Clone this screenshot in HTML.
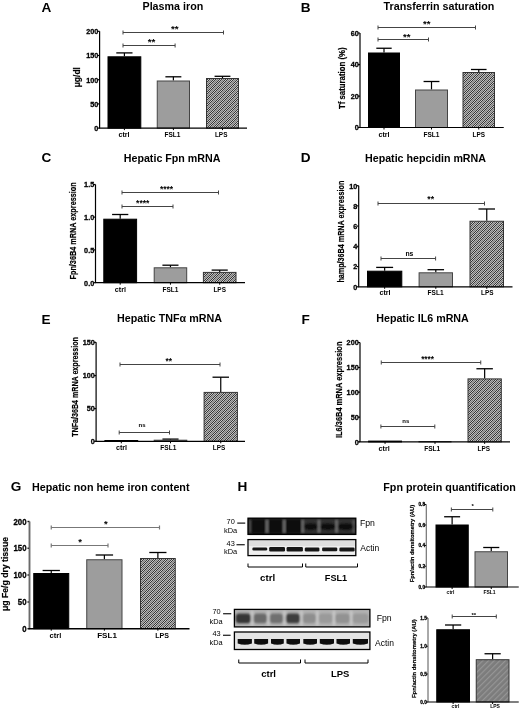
<!DOCTYPE html><html><head><meta charset="utf-8"><style>html,body{margin:0;padding:0;background:#fff;}svg{display:block;filter:grayscale(1);}</style></head><body>
<svg width="520" height="710" viewBox="0 0 520 710" font-family='"Liberation Sans", sans-serif'>
<defs>
<pattern id="hatch" patternUnits="userSpaceOnUse" width="2" height="2">
<rect width="2" height="2" fill="#b0b0b0"/><rect width="1" height="1" fill="#3a3a3a"/><rect x="1" y="1" width="1" height="1" fill="#3a3a3a"/></pattern>
<pattern id="diag" patternUnits="userSpaceOnUse" width="3" height="3">
<path d="M-1,1 l2,-2 M0,3 l3,-3 M2,4 l2,-2" stroke="#fff" stroke-opacity="0.35" stroke-width="1"/></pattern>
<pattern id="hatch2" patternUnits="userSpaceOnUse" width="4" height="4" patternTransform="rotate(-45)">
<rect width="4" height="4" fill="#7c7c7c"/><rect width="4" height="1.2" fill="#959595"/></pattern>
</defs>
<rect width="520" height="710" fill="#fff"/>
<text x="41.60" y="12.20" font-size="13.6" font-weight="bold" text-anchor="start" fill="#000" >A</text>
<text x="300.80" y="12.40" font-size="13.6" font-weight="bold" text-anchor="start" fill="#000" >B</text>
<text x="41.60" y="162.00" font-size="13.6" font-weight="bold" text-anchor="start" fill="#000" >C</text>
<text x="300.80" y="162.40" font-size="13.6" font-weight="bold" text-anchor="start" fill="#000" >D</text>
<text x="41.60" y="324.40" font-size="13.6" font-weight="bold" text-anchor="start" fill="#000" >E</text>
<text x="301.60" y="324.20" font-size="13.6" font-weight="bold" text-anchor="start" fill="#000" >F</text>
<text x="10.80" y="490.50" font-size="13.6" font-weight="bold" text-anchor="start" fill="#000" >G</text>
<text x="237.60" y="490.50" font-size="13.6" font-weight="bold" text-anchor="start" fill="#000" >H</text>
<text x="142.50" y="9.70" font-size="10.3" font-weight="bold" text-anchor="start" fill="#000" textLength="60.75" lengthAdjust="spacingAndGlyphs" >Plasma iron</text>
<text x="383.60" y="9.60" font-size="10.3" font-weight="bold" text-anchor="start" fill="#000" textLength="110.80" lengthAdjust="spacingAndGlyphs" >Transferrin saturation</text>
<text x="123.75" y="162.00" font-size="10.3" font-weight="bold" text-anchor="start" fill="#000" textLength="96.75" lengthAdjust="spacingAndGlyphs" >Hepatic Fpn mRNA</text>
<text x="365.00" y="162.00" font-size="10.3" font-weight="bold" text-anchor="start" fill="#000" textLength="121.00" lengthAdjust="spacingAndGlyphs" >Hepatic hepcidin mRNA</text>
<text x="117.00" y="322.00" font-size="10.3" font-weight="bold" text-anchor="start" fill="#000" textLength="105.00" lengthAdjust="spacingAndGlyphs" >Hepatic TNF&#945; mRNA</text>
<text x="376.25" y="321.80" font-size="10.3" font-weight="bold" text-anchor="start" fill="#000" textLength="92.50" lengthAdjust="spacingAndGlyphs" >Hepatic IL6 mRNA</text>
<text x="32.00" y="490.50" font-size="10.3" font-weight="bold" text-anchor="start" fill="#000" textLength="157.50" lengthAdjust="spacingAndGlyphs" >Hepatic non heme iron content</text>
<text x="383.30" y="490.50" font-size="10.3" font-weight="bold" text-anchor="start" fill="#000" textLength="132.50" lengthAdjust="spacingAndGlyphs" >Fpn protein quantification</text>
<line x1="97.60" y1="31.30" x2="99.60" y2="31.30" stroke="#000" stroke-width="1.2"/>
<text x="98.30" y="34.11" font-size="7.8" font-weight="bold" text-anchor="end" fill="#000" textLength="12.10" lengthAdjust="spacingAndGlyphs" stroke="#000" stroke-width="0.3">200</text>
<line x1="97.60" y1="55.50" x2="99.60" y2="55.50" stroke="#000" stroke-width="1.2"/>
<text x="98.30" y="58.31" font-size="7.8" font-weight="bold" text-anchor="end" fill="#000" textLength="12.10" lengthAdjust="spacingAndGlyphs" stroke="#000" stroke-width="0.3">150</text>
<line x1="97.60" y1="79.70" x2="99.60" y2="79.70" stroke="#000" stroke-width="1.2"/>
<text x="98.30" y="82.51" font-size="7.8" font-weight="bold" text-anchor="end" fill="#000" textLength="12.10" lengthAdjust="spacingAndGlyphs" stroke="#000" stroke-width="0.3">100</text>
<line x1="97.60" y1="103.90" x2="99.60" y2="103.90" stroke="#000" stroke-width="1.2"/>
<text x="98.30" y="106.71" font-size="7.8" font-weight="bold" text-anchor="end" fill="#000" textLength="8.07" lengthAdjust="spacingAndGlyphs" stroke="#000" stroke-width="0.3">50</text>
<line x1="97.60" y1="128.10" x2="99.60" y2="128.10" stroke="#000" stroke-width="1.2"/>
<text x="98.30" y="130.91" font-size="7.8" font-weight="bold" text-anchor="end" fill="#000" textLength="4.03" lengthAdjust="spacingAndGlyphs" stroke="#000" stroke-width="0.3">0</text>
<line x1="124.40" y1="52.90" x2="124.40" y2="56.30" stroke="#000" stroke-width="1.2"/>
<line x1="116.29" y1="52.90" x2="132.51" y2="52.90" stroke="#000" stroke-width="1.3"/>
<rect x="108.00" y="56.80" width="32.80" height="71.30" fill="#000" stroke="#000" stroke-width="1"/>
<line x1="124.40" y1="128.10" x2="124.40" y2="130.10" stroke="#000" stroke-width="1"/>
<line x1="173.38" y1="76.80" x2="173.38" y2="80.50" stroke="#000" stroke-width="1.2"/>
<line x1="165.40" y1="76.80" x2="181.35" y2="76.80" stroke="#000" stroke-width="1.3"/>
<rect x="157.25" y="81.00" width="32.25" height="47.10" fill="#9d9d9d" stroke="#444" stroke-width="1"/>
<line x1="173.38" y1="128.10" x2="173.38" y2="130.10" stroke="#000" stroke-width="1"/>
<line x1="222.50" y1="76.30" x2="222.50" y2="78.00" stroke="#000" stroke-width="1.2"/>
<line x1="214.58" y1="76.30" x2="230.42" y2="76.30" stroke="#000" stroke-width="1.3"/>
<rect x="206.50" y="78.50" width="32.00" height="49.60" fill="url(#hatch)" stroke="#333" stroke-width="1"/>
<rect x="207.00" y="79.00" width="31.00" height="49.10" fill="url(#diag)"/>
<line x1="222.50" y1="128.10" x2="222.50" y2="130.10" stroke="#000" stroke-width="1"/>
<line x1="99.60" y1="31.30" x2="99.60" y2="128.10" stroke="#000" stroke-width="1.2"/>
<line x1="99.00" y1="128.10" x2="247.00" y2="128.10" stroke="#000" stroke-width="1.2"/>
<line x1="123.00" y1="32.50" x2="223.50" y2="32.50" stroke="#444" stroke-width="1.0"/>
<line x1="123.00" y1="30.50" x2="123.00" y2="34.50" stroke="#444" stroke-width="1.0"/>
<line x1="223.50" y1="30.50" x2="223.50" y2="34.50" stroke="#444" stroke-width="1.0"/>
<text x="174.85" y="31.80" font-size="9.8" font-weight="bold" text-anchor="middle" fill="#000" >**</text>
<line x1="123.00" y1="45.50" x2="175.10" y2="45.50" stroke="#444" stroke-width="1.0"/>
<line x1="123.00" y1="43.50" x2="123.00" y2="47.50" stroke="#444" stroke-width="1.0"/>
<line x1="175.10" y1="43.50" x2="175.10" y2="47.50" stroke="#444" stroke-width="1.0"/>
<text x="151.50" y="44.80" font-size="9.8" font-weight="bold" text-anchor="middle" fill="#000" >**</text>
<text x="124.00" y="137.40" font-size="7.5" font-weight="bold" text-anchor="middle" fill="#000" textLength="11.2" lengthAdjust="spacingAndGlyphs" >ctrl</text>
<text x="172.50" y="137.40" font-size="7.5" font-weight="bold" text-anchor="middle" fill="#000" textLength="16" lengthAdjust="spacingAndGlyphs" >FSL1</text>
<text x="221.20" y="137.40" font-size="7.5" font-weight="bold" text-anchor="middle" fill="#000" textLength="12.5" lengthAdjust="spacingAndGlyphs" >LPS</text>
<text x="79.60" y="77.20" font-size="9" font-weight="bold" text-anchor="middle" fill="#000" textLength="20.2" lengthAdjust="spacingAndGlyphs" transform="rotate(-90 79.60 77.20)" stroke="#000" stroke-width="0.2">&#956;g/dl</text>
<line x1="358.00" y1="33.00" x2="360.00" y2="33.00" stroke="#000" stroke-width="1.2"/>
<text x="358.70" y="35.81" font-size="7.8" font-weight="bold" text-anchor="end" fill="#000" textLength="8.07" lengthAdjust="spacingAndGlyphs" stroke="#000" stroke-width="0.3">60</text>
<line x1="358.00" y1="64.60" x2="360.00" y2="64.60" stroke="#000" stroke-width="1.2"/>
<text x="358.70" y="67.41" font-size="7.8" font-weight="bold" text-anchor="end" fill="#000" textLength="8.07" lengthAdjust="spacingAndGlyphs" stroke="#000" stroke-width="0.3">40</text>
<line x1="358.00" y1="96.10" x2="360.00" y2="96.10" stroke="#000" stroke-width="1.2"/>
<text x="358.70" y="98.91" font-size="7.8" font-weight="bold" text-anchor="end" fill="#000" textLength="8.07" lengthAdjust="spacingAndGlyphs" stroke="#000" stroke-width="0.3">20</text>
<line x1="358.00" y1="127.50" x2="360.00" y2="127.50" stroke="#000" stroke-width="1.2"/>
<text x="358.70" y="130.31" font-size="7.8" font-weight="bold" text-anchor="end" fill="#000" textLength="4.03" lengthAdjust="spacingAndGlyphs" stroke="#000" stroke-width="0.3">0</text>
<line x1="384.00" y1="48.25" x2="384.00" y2="52.50" stroke="#000" stroke-width="1.2"/>
<line x1="376.32" y1="48.25" x2="391.68" y2="48.25" stroke="#000" stroke-width="1.3"/>
<rect x="368.50" y="53.00" width="31.00" height="74.50" fill="#000" stroke="#000" stroke-width="1"/>
<line x1="384.00" y1="127.50" x2="384.00" y2="129.50" stroke="#000" stroke-width="1"/>
<line x1="431.50" y1="81.50" x2="431.50" y2="89.50" stroke="#000" stroke-width="1.2"/>
<line x1="423.58" y1="81.50" x2="439.42" y2="81.50" stroke="#000" stroke-width="1.3"/>
<rect x="415.50" y="90.00" width="32.00" height="37.50" fill="#9d9d9d" stroke="#444" stroke-width="1"/>
<line x1="431.50" y1="127.50" x2="431.50" y2="129.50" stroke="#000" stroke-width="1"/>
<line x1="478.75" y1="69.50" x2="478.75" y2="72.00" stroke="#000" stroke-width="1.2"/>
<line x1="470.95" y1="69.50" x2="486.55" y2="69.50" stroke="#000" stroke-width="1.3"/>
<rect x="463.00" y="72.50" width="31.50" height="55.00" fill="url(#hatch)" stroke="#333" stroke-width="1"/>
<rect x="463.50" y="73.00" width="30.50" height="54.50" fill="url(#diag)"/>
<line x1="478.75" y1="127.50" x2="478.75" y2="129.50" stroke="#000" stroke-width="1"/>
<line x1="360.00" y1="33.00" x2="360.00" y2="127.50" stroke="#000" stroke-width="1.2"/>
<line x1="359.40" y1="127.50" x2="503.75" y2="127.50" stroke="#000" stroke-width="1.2"/>
<line x1="378.00" y1="27.50" x2="475.50" y2="27.50" stroke="#444" stroke-width="1.0"/>
<line x1="378.00" y1="25.50" x2="378.00" y2="29.50" stroke="#444" stroke-width="1.0"/>
<line x1="475.50" y1="25.50" x2="475.50" y2="29.50" stroke="#444" stroke-width="1.0"/>
<text x="426.85" y="27.05" font-size="9.6" font-weight="bold" text-anchor="middle" fill="#000" >**</text>
<line x1="378.00" y1="39.50" x2="428.50" y2="39.50" stroke="#444" stroke-width="1.0"/>
<line x1="378.00" y1="37.50" x2="378.00" y2="41.50" stroke="#444" stroke-width="1.0"/>
<line x1="428.50" y1="37.50" x2="428.50" y2="41.50" stroke="#444" stroke-width="1.0"/>
<text x="406.80" y="39.95" font-size="9.6" font-weight="bold" text-anchor="middle" fill="#000" >**</text>
<text x="384.00" y="137.40" font-size="7.5" font-weight="bold" text-anchor="middle" fill="#000" textLength="11.2" lengthAdjust="spacingAndGlyphs" >ctrl</text>
<text x="431.50" y="137.40" font-size="7.5" font-weight="bold" text-anchor="middle" fill="#000" textLength="16" lengthAdjust="spacingAndGlyphs" >FSL1</text>
<text x="478.75" y="137.40" font-size="7.5" font-weight="bold" text-anchor="middle" fill="#000" textLength="12.5" lengthAdjust="spacingAndGlyphs" >LPS</text>
<text x="344.90" y="78.25" font-size="8.2" font-weight="bold" text-anchor="middle" fill="#000" textLength="61.7" lengthAdjust="spacingAndGlyphs" transform="rotate(-90 344.90 78.25)" stroke="#000" stroke-width="0.2">Tf saturation (%)</text>
<line x1="93.50" y1="184.50" x2="95.50" y2="184.50" stroke="#000" stroke-width="1.2"/>
<text x="94.20" y="187.31" font-size="7.8" font-weight="bold" text-anchor="end" fill="#000" textLength="10.08" lengthAdjust="spacingAndGlyphs" stroke="#000" stroke-width="0.3">1.5</text>
<line x1="93.50" y1="217.10" x2="95.50" y2="217.10" stroke="#000" stroke-width="1.2"/>
<text x="94.20" y="219.91" font-size="7.8" font-weight="bold" text-anchor="end" fill="#000" textLength="10.08" lengthAdjust="spacingAndGlyphs" stroke="#000" stroke-width="0.3">1.0</text>
<line x1="93.50" y1="249.90" x2="95.50" y2="249.90" stroke="#000" stroke-width="1.2"/>
<text x="94.20" y="252.71" font-size="7.8" font-weight="bold" text-anchor="end" fill="#000" textLength="10.08" lengthAdjust="spacingAndGlyphs" stroke="#000" stroke-width="0.3">0.5</text>
<line x1="93.50" y1="282.70" x2="95.50" y2="282.70" stroke="#000" stroke-width="1.2"/>
<text x="94.20" y="285.51" font-size="7.8" font-weight="bold" text-anchor="end" fill="#000" textLength="10.08" lengthAdjust="spacingAndGlyphs" stroke="#000" stroke-width="0.3">0.0</text>
<line x1="120.20" y1="214.50" x2="120.20" y2="218.70" stroke="#000" stroke-width="1.2"/>
<line x1="112.09" y1="214.50" x2="128.31" y2="214.50" stroke="#000" stroke-width="1.3"/>
<rect x="103.80" y="219.20" width="32.80" height="63.50" fill="#000" stroke="#000" stroke-width="1"/>
<line x1="120.20" y1="282.70" x2="120.20" y2="284.70" stroke="#000" stroke-width="1"/>
<line x1="170.45" y1="265.20" x2="170.45" y2="267.30" stroke="#000" stroke-width="1.2"/>
<line x1="162.41" y1="265.20" x2="178.49" y2="265.20" stroke="#000" stroke-width="1.3"/>
<rect x="154.20" y="267.80" width="32.50" height="14.90" fill="#9d9d9d" stroke="#444" stroke-width="1"/>
<line x1="170.45" y1="282.70" x2="170.45" y2="284.70" stroke="#000" stroke-width="1"/>
<line x1="219.70" y1="270.10" x2="219.70" y2="271.90" stroke="#000" stroke-width="1.2"/>
<line x1="211.64" y1="270.10" x2="227.76" y2="270.10" stroke="#000" stroke-width="1.3"/>
<rect x="203.40" y="272.40" width="32.60" height="10.30" fill="url(#hatch)" stroke="#333" stroke-width="1"/>
<rect x="203.90" y="272.90" width="31.60" height="9.80" fill="url(#diag)"/>
<line x1="219.70" y1="282.70" x2="219.70" y2="284.70" stroke="#000" stroke-width="1"/>
<line x1="95.50" y1="184.50" x2="95.50" y2="282.70" stroke="#000" stroke-width="1.2"/>
<line x1="94.90" y1="282.70" x2="245.00" y2="282.70" stroke="#000" stroke-width="1.2"/>
<line x1="122.00" y1="192.50" x2="218.50" y2="192.50" stroke="#444" stroke-width="1.0"/>
<line x1="122.00" y1="190.50" x2="122.00" y2="194.50" stroke="#444" stroke-width="1.0"/>
<line x1="218.50" y1="190.50" x2="218.50" y2="194.50" stroke="#444" stroke-width="1.0"/>
<text x="166.55" y="191.89" font-size="8.5" font-weight="bold" text-anchor="middle" fill="#000" >****</text>
<line x1="122.00" y1="206.50" x2="173.00" y2="206.50" stroke="#444" stroke-width="1.0"/>
<line x1="122.00" y1="204.50" x2="122.00" y2="208.50" stroke="#444" stroke-width="1.0"/>
<line x1="173.00" y1="204.50" x2="173.00" y2="208.50" stroke="#444" stroke-width="1.0"/>
<text x="142.70" y="206.49" font-size="8.5" font-weight="bold" text-anchor="middle" fill="#000" >****</text>
<text x="120.40" y="291.70" font-size="7.5" font-weight="bold" text-anchor="middle" fill="#000" textLength="11.2" lengthAdjust="spacingAndGlyphs" >ctrl</text>
<text x="170.50" y="291.70" font-size="7.5" font-weight="bold" text-anchor="middle" fill="#000" textLength="16" lengthAdjust="spacingAndGlyphs" >FSL1</text>
<text x="219.70" y="291.70" font-size="7.5" font-weight="bold" text-anchor="middle" fill="#000" textLength="12.5" lengthAdjust="spacingAndGlyphs" >LPS</text>
<text x="76.50" y="230.90" font-size="8.2" font-weight="bold" text-anchor="middle" fill="#000" textLength="97.2" lengthAdjust="spacingAndGlyphs" transform="rotate(-90 76.50 230.90)" stroke="#000" stroke-width="0.2">Fpn/36B4 mRNA expression</text>
<line x1="356.70" y1="185.70" x2="358.70" y2="185.70" stroke="#000" stroke-width="1.2"/>
<text x="357.40" y="188.51" font-size="7.8" font-weight="bold" text-anchor="end" fill="#000" textLength="8.07" lengthAdjust="spacingAndGlyphs" stroke="#000" stroke-width="0.3">10</text>
<line x1="356.70" y1="205.90" x2="358.70" y2="205.90" stroke="#000" stroke-width="1.2"/>
<text x="357.40" y="208.71" font-size="7.8" font-weight="bold" text-anchor="end" fill="#000" textLength="4.03" lengthAdjust="spacingAndGlyphs" stroke="#000" stroke-width="0.3">8</text>
<line x1="356.70" y1="226.10" x2="358.70" y2="226.10" stroke="#000" stroke-width="1.2"/>
<text x="357.40" y="228.91" font-size="7.8" font-weight="bold" text-anchor="end" fill="#000" textLength="4.03" lengthAdjust="spacingAndGlyphs" stroke="#000" stroke-width="0.3">6</text>
<line x1="356.70" y1="246.30" x2="358.70" y2="246.30" stroke="#000" stroke-width="1.2"/>
<text x="357.40" y="249.11" font-size="7.8" font-weight="bold" text-anchor="end" fill="#000" textLength="4.03" lengthAdjust="spacingAndGlyphs" stroke="#000" stroke-width="0.3">4</text>
<line x1="356.70" y1="266.60" x2="358.70" y2="266.60" stroke="#000" stroke-width="1.2"/>
<text x="357.40" y="269.41" font-size="7.8" font-weight="bold" text-anchor="end" fill="#000" textLength="4.03" lengthAdjust="spacingAndGlyphs" stroke="#000" stroke-width="0.3">2</text>
<line x1="356.70" y1="286.80" x2="358.70" y2="286.80" stroke="#000" stroke-width="1.2"/>
<text x="357.40" y="289.61" font-size="7.8" font-weight="bold" text-anchor="end" fill="#000" textLength="4.03" lengthAdjust="spacingAndGlyphs" stroke="#000" stroke-width="0.3">0</text>
<line x1="384.65" y1="267.40" x2="384.65" y2="270.70" stroke="#000" stroke-width="1.2"/>
<line x1="376.18" y1="267.40" x2="393.12" y2="267.40" stroke="#000" stroke-width="1.3"/>
<rect x="367.50" y="271.20" width="34.30" height="15.60" fill="#000" stroke="#000" stroke-width="1"/>
<line x1="384.65" y1="286.80" x2="384.65" y2="288.80" stroke="#000" stroke-width="1"/>
<line x1="435.80" y1="269.70" x2="435.80" y2="272.30" stroke="#000" stroke-width="1.2"/>
<line x1="427.54" y1="269.70" x2="444.06" y2="269.70" stroke="#000" stroke-width="1.3"/>
<rect x="419.10" y="272.80" width="33.40" height="14.00" fill="#9d9d9d" stroke="#444" stroke-width="1"/>
<line x1="435.80" y1="286.80" x2="435.80" y2="288.80" stroke="#000" stroke-width="1"/>
<line x1="486.75" y1="209.00" x2="486.75" y2="220.75" stroke="#000" stroke-width="1.2"/>
<line x1="478.47" y1="209.00" x2="495.03" y2="209.00" stroke="#000" stroke-width="1.3"/>
<rect x="470.00" y="221.25" width="33.50" height="65.55" fill="url(#hatch)" stroke="#333" stroke-width="1"/>
<rect x="470.50" y="221.75" width="32.50" height="65.05" fill="url(#diag)"/>
<line x1="486.75" y1="286.80" x2="486.75" y2="288.80" stroke="#000" stroke-width="1"/>
<line x1="358.70" y1="185.70" x2="358.70" y2="286.80" stroke="#000" stroke-width="1.2"/>
<line x1="358.10" y1="286.80" x2="512.50" y2="286.80" stroke="#000" stroke-width="1.2"/>
<line x1="378.00" y1="203.50" x2="484.50" y2="203.50" stroke="#444" stroke-width="1.0"/>
<line x1="378.00" y1="201.50" x2="378.00" y2="205.50" stroke="#444" stroke-width="1.0"/>
<line x1="484.50" y1="201.50" x2="484.50" y2="205.50" stroke="#444" stroke-width="1.0"/>
<text x="430.75" y="201.59" font-size="8.7" font-weight="bold" text-anchor="middle" fill="#000" >**</text>
<line x1="381.00" y1="258.50" x2="435.60" y2="258.50" stroke="#444" stroke-width="1.0"/>
<line x1="381.00" y1="256.50" x2="381.00" y2="260.50" stroke="#444" stroke-width="1.0"/>
<line x1="435.60" y1="256.50" x2="435.60" y2="260.50" stroke="#444" stroke-width="1.0"/>
<text x="409.45" y="255.75" font-size="6.8" font-weight="bold" text-anchor="middle" fill="#000" >ns</text>
<text x="385.00" y="295.30" font-size="7.5" font-weight="bold" text-anchor="middle" fill="#000" textLength="11.2" lengthAdjust="spacingAndGlyphs" >ctrl</text>
<text x="435.60" y="295.30" font-size="7.5" font-weight="bold" text-anchor="middle" fill="#000" textLength="16" lengthAdjust="spacingAndGlyphs" >FSL1</text>
<text x="487.30" y="295.30" font-size="7.5" font-weight="bold" text-anchor="middle" fill="#000" textLength="12.5" lengthAdjust="spacingAndGlyphs" >LPS</text>
<text x="344.00" y="231.60" font-size="8.3" font-weight="bold" text-anchor="middle" fill="#000" textLength="102" lengthAdjust="spacingAndGlyphs" transform="rotate(-90 344.00 231.60)" stroke="#000" stroke-width="0.2">hamp/36B4 mRNA expression</text>
<line x1="94.10" y1="342.30" x2="96.10" y2="342.30" stroke="#000" stroke-width="1.2"/>
<text x="94.80" y="345.11" font-size="7.8" font-weight="bold" text-anchor="end" fill="#000" textLength="12.10" lengthAdjust="spacingAndGlyphs" stroke="#000" stroke-width="0.3">150</text>
<line x1="94.10" y1="375.60" x2="96.10" y2="375.60" stroke="#000" stroke-width="1.2"/>
<text x="94.80" y="378.41" font-size="7.8" font-weight="bold" text-anchor="end" fill="#000" textLength="12.10" lengthAdjust="spacingAndGlyphs" stroke="#000" stroke-width="0.3">100</text>
<line x1="94.10" y1="408.60" x2="96.10" y2="408.60" stroke="#000" stroke-width="1.2"/>
<text x="94.80" y="411.41" font-size="7.8" font-weight="bold" text-anchor="end" fill="#000" textLength="8.07" lengthAdjust="spacingAndGlyphs" stroke="#000" stroke-width="0.3">50</text>
<line x1="94.10" y1="441.30" x2="96.10" y2="441.30" stroke="#000" stroke-width="1.2"/>
<text x="94.80" y="444.11" font-size="7.8" font-weight="bold" text-anchor="end" fill="#000" textLength="4.03" lengthAdjust="spacingAndGlyphs" stroke="#000" stroke-width="0.3">0</text>
<rect x="104.90" y="440.50" width="32.80" height="0.80" fill="#000" stroke="#000" stroke-width="1"/>
<line x1="121.30" y1="441.30" x2="121.30" y2="443.30" stroke="#000" stroke-width="1"/>
<line x1="170.50" y1="439.10" x2="170.50" y2="439.70" stroke="#000" stroke-width="1.2"/>
<line x1="162.44" y1="439.10" x2="178.56" y2="439.10" stroke="#000" stroke-width="1.3"/>
<rect x="154.20" y="440.20" width="32.60" height="1.10" fill="#9d9d9d" stroke="#444" stroke-width="1"/>
<line x1="170.50" y1="441.30" x2="170.50" y2="443.30" stroke="#000" stroke-width="1"/>
<line x1="220.75" y1="377.20" x2="220.75" y2="391.90" stroke="#000" stroke-width="1.2"/>
<line x1="212.52" y1="377.20" x2="228.98" y2="377.20" stroke="#000" stroke-width="1.3"/>
<rect x="204.10" y="392.40" width="33.30" height="48.90" fill="url(#hatch)" stroke="#333" stroke-width="1"/>
<rect x="204.60" y="392.90" width="32.30" height="48.40" fill="url(#diag)"/>
<line x1="220.75" y1="441.30" x2="220.75" y2="443.30" stroke="#000" stroke-width="1"/>
<line x1="96.10" y1="342.30" x2="96.10" y2="441.30" stroke="#000" stroke-width="1.2"/>
<line x1="95.50" y1="441.30" x2="245.00" y2="441.30" stroke="#000" stroke-width="1.2"/>
<line x1="120.00" y1="364.50" x2="220.00" y2="364.50" stroke="#444" stroke-width="1.0"/>
<line x1="120.00" y1="362.50" x2="120.00" y2="366.50" stroke="#444" stroke-width="1.0"/>
<line x1="220.00" y1="362.50" x2="220.00" y2="366.50" stroke="#444" stroke-width="1.0"/>
<text x="168.65" y="363.73" font-size="8.4" font-weight="bold" text-anchor="middle" fill="#000" >**</text>
<line x1="119.20" y1="432.50" x2="169.50" y2="432.50" stroke="#444" stroke-width="1.0"/>
<line x1="119.20" y1="430.50" x2="119.20" y2="434.50" stroke="#444" stroke-width="1.0"/>
<line x1="169.50" y1="430.50" x2="169.50" y2="434.50" stroke="#444" stroke-width="1.0"/>
<text x="142.00" y="427.19" font-size="6" font-weight="bold" text-anchor="middle" fill="#000" >ns</text>
<text x="121.50" y="450.20" font-size="7.5" font-weight="bold" text-anchor="middle" fill="#000" textLength="11.2" lengthAdjust="spacingAndGlyphs" >ctrl</text>
<text x="168.30" y="450.20" font-size="7.5" font-weight="bold" text-anchor="middle" fill="#000" textLength="16" lengthAdjust="spacingAndGlyphs" >FSL1</text>
<text x="219.00" y="450.20" font-size="7.5" font-weight="bold" text-anchor="middle" fill="#000" textLength="12.5" lengthAdjust="spacingAndGlyphs" >LPS</text>
<text x="77.70" y="386.90" font-size="8.3" font-weight="bold" text-anchor="middle" fill="#000" textLength="99.7" lengthAdjust="spacingAndGlyphs" transform="rotate(-90 77.70 386.90)" stroke="#000" stroke-width="0.2">TNFa/36B4 mRNA expression</text>
<line x1="358.00" y1="342.50" x2="360.00" y2="342.50" stroke="#000" stroke-width="1.2"/>
<text x="358.70" y="345.31" font-size="7.8" font-weight="bold" text-anchor="end" fill="#000" textLength="12.10" lengthAdjust="spacingAndGlyphs" stroke="#000" stroke-width="0.3">200</text>
<line x1="358.00" y1="367.50" x2="360.00" y2="367.50" stroke="#000" stroke-width="1.2"/>
<text x="358.70" y="370.31" font-size="7.8" font-weight="bold" text-anchor="end" fill="#000" textLength="12.10" lengthAdjust="spacingAndGlyphs" stroke="#000" stroke-width="0.3">150</text>
<line x1="358.00" y1="392.20" x2="360.00" y2="392.20" stroke="#000" stroke-width="1.2"/>
<text x="358.70" y="395.01" font-size="7.8" font-weight="bold" text-anchor="end" fill="#000" textLength="12.10" lengthAdjust="spacingAndGlyphs" stroke="#000" stroke-width="0.3">100</text>
<line x1="358.00" y1="417.10" x2="360.00" y2="417.10" stroke="#000" stroke-width="1.2"/>
<text x="358.70" y="419.91" font-size="7.8" font-weight="bold" text-anchor="end" fill="#000" textLength="8.07" lengthAdjust="spacingAndGlyphs" stroke="#000" stroke-width="0.3">50</text>
<line x1="358.00" y1="441.90" x2="360.00" y2="441.90" stroke="#000" stroke-width="1.2"/>
<text x="358.70" y="444.71" font-size="7.8" font-weight="bold" text-anchor="end" fill="#000" textLength="4.03" lengthAdjust="spacingAndGlyphs" stroke="#000" stroke-width="0.3">0</text>
<rect x="368.60" y="441.10" width="32.90" height="0.80" fill="#000" stroke="#000" stroke-width="1"/>
<line x1="385.05" y1="441.90" x2="385.05" y2="443.90" stroke="#000" stroke-width="1"/>
<rect x="419.00" y="441.50" width="32.00" height="0.40" fill="#9d9d9d" stroke="#444" stroke-width="1"/>
<line x1="435.00" y1="441.90" x2="435.00" y2="443.90" stroke="#000" stroke-width="1"/>
<line x1="484.65" y1="368.75" x2="484.65" y2="378.40" stroke="#000" stroke-width="1.2"/>
<line x1="476.42" y1="368.75" x2="492.88" y2="368.75" stroke="#000" stroke-width="1.3"/>
<rect x="468.00" y="378.90" width="33.30" height="63.00" fill="url(#hatch)" stroke="#333" stroke-width="1"/>
<rect x="468.50" y="379.40" width="32.30" height="62.50" fill="url(#diag)"/>
<line x1="484.65" y1="441.90" x2="484.65" y2="443.90" stroke="#000" stroke-width="1"/>
<line x1="360.00" y1="342.50" x2="360.00" y2="441.90" stroke="#000" stroke-width="1.2"/>
<line x1="359.40" y1="441.90" x2="510.00" y2="441.90" stroke="#000" stroke-width="1.2"/>
<line x1="381.25" y1="362.50" x2="480.75" y2="362.50" stroke="#444" stroke-width="1.0"/>
<line x1="381.25" y1="360.50" x2="381.25" y2="364.50" stroke="#444" stroke-width="1.0"/>
<line x1="480.75" y1="360.50" x2="480.75" y2="364.50" stroke="#444" stroke-width="1.0"/>
<text x="427.60" y="362.43" font-size="8.3" font-weight="bold" text-anchor="middle" fill="#000" >****</text>
<line x1="380.90" y1="426.50" x2="434.80" y2="426.50" stroke="#444" stroke-width="1.0"/>
<line x1="380.90" y1="424.50" x2="380.90" y2="428.50" stroke="#444" stroke-width="1.0"/>
<line x1="434.80" y1="424.50" x2="434.80" y2="428.50" stroke="#444" stroke-width="1.0"/>
<text x="405.75" y="423.09" font-size="6" font-weight="bold" text-anchor="middle" fill="#000" >ns</text>
<text x="384.10" y="450.50" font-size="7.5" font-weight="bold" text-anchor="middle" fill="#000" textLength="11.2" lengthAdjust="spacingAndGlyphs" >ctrl</text>
<text x="432.20" y="450.50" font-size="7.5" font-weight="bold" text-anchor="middle" fill="#000" textLength="16" lengthAdjust="spacingAndGlyphs" >FSL1</text>
<text x="483.80" y="450.50" font-size="7.5" font-weight="bold" text-anchor="middle" fill="#000" textLength="12.5" lengthAdjust="spacingAndGlyphs" >LPS</text>
<text x="341.70" y="389.80" font-size="8.3" font-weight="bold" text-anchor="middle" fill="#000" textLength="96.5" lengthAdjust="spacingAndGlyphs" transform="rotate(-90 341.70 389.80)" stroke="#000" stroke-width="0.2">IL6/36B4 mRNA expression</text>
<line x1="27.50" y1="521.50" x2="29.50" y2="521.50" stroke="#000" stroke-width="1.4"/>
<text x="26.50" y="524.52" font-size="8.4" font-weight="bold" text-anchor="end" fill="#000" textLength="13.03" lengthAdjust="spacingAndGlyphs" stroke="#000" stroke-width="0.3">200</text>
<line x1="27.50" y1="548.25" x2="29.50" y2="548.25" stroke="#000" stroke-width="1.4"/>
<text x="26.50" y="551.27" font-size="8.4" font-weight="bold" text-anchor="end" fill="#000" textLength="13.03" lengthAdjust="spacingAndGlyphs" stroke="#000" stroke-width="0.3">150</text>
<line x1="27.50" y1="575.00" x2="29.50" y2="575.00" stroke="#000" stroke-width="1.4"/>
<text x="26.50" y="578.02" font-size="8.4" font-weight="bold" text-anchor="end" fill="#000" textLength="13.03" lengthAdjust="spacingAndGlyphs" stroke="#000" stroke-width="0.3">100</text>
<line x1="27.50" y1="602.00" x2="29.50" y2="602.00" stroke="#000" stroke-width="1.4"/>
<text x="26.50" y="605.02" font-size="8.4" font-weight="bold" text-anchor="end" fill="#000" textLength="8.69" lengthAdjust="spacingAndGlyphs" stroke="#000" stroke-width="0.3">50</text>
<line x1="27.50" y1="628.70" x2="29.50" y2="628.70" stroke="#000" stroke-width="1.4"/>
<text x="26.50" y="631.72" font-size="8.4" font-weight="bold" text-anchor="end" fill="#000" textLength="4.34" lengthAdjust="spacingAndGlyphs" stroke="#000" stroke-width="0.3">0</text>
<line x1="51.25" y1="570.50" x2="51.25" y2="573.00" stroke="#000" stroke-width="1.2"/>
<line x1="42.61" y1="570.50" x2="59.89" y2="570.50" stroke="#000" stroke-width="1.3"/>
<rect x="33.75" y="573.50" width="35.00" height="55.20" fill="#000" stroke="#000" stroke-width="1"/>
<line x1="51.25" y1="628.70" x2="51.25" y2="630.70" stroke="#000" stroke-width="1"/>
<line x1="104.38" y1="555.00" x2="104.38" y2="559.25" stroke="#000" stroke-width="1.2"/>
<line x1="95.67" y1="555.00" x2="113.08" y2="555.00" stroke="#000" stroke-width="1.3"/>
<rect x="86.75" y="559.75" width="35.25" height="68.95" fill="#9d9d9d" stroke="#444" stroke-width="1"/>
<line x1="104.38" y1="628.70" x2="104.38" y2="630.70" stroke="#000" stroke-width="1"/>
<line x1="157.88" y1="552.50" x2="157.88" y2="558.00" stroke="#000" stroke-width="1.2"/>
<line x1="149.29" y1="552.50" x2="166.46" y2="552.50" stroke="#000" stroke-width="1.3"/>
<rect x="140.50" y="558.50" width="34.75" height="70.20" fill="url(#hatch)" stroke="#333" stroke-width="1"/>
<rect x="141.00" y="559.00" width="33.75" height="69.70" fill="url(#diag)"/>
<line x1="157.88" y1="628.70" x2="157.88" y2="630.70" stroke="#000" stroke-width="1"/>
<line x1="29.50" y1="521.50" x2="29.50" y2="628.70" stroke="#6a6a6a" stroke-width="1.9"/>
<line x1="28.55" y1="628.70" x2="189.50" y2="628.70" stroke="#000" stroke-width="1.4"/>
<line x1="51.25" y1="527.50" x2="159.50" y2="527.50" stroke="#777" stroke-width="1.2"/>
<line x1="51.25" y1="525.50" x2="51.25" y2="529.50" stroke="#777" stroke-width="1.2"/>
<line x1="159.50" y1="525.50" x2="159.50" y2="529.50" stroke="#777" stroke-width="1.2"/>
<text x="105.90" y="527.14" font-size="9.5" font-weight="bold" text-anchor="middle" fill="#000" >*</text>
<line x1="51.25" y1="545.50" x2="108.00" y2="545.50" stroke="#777" stroke-width="1.2"/>
<line x1="51.25" y1="543.50" x2="51.25" y2="547.50" stroke="#777" stroke-width="1.2"/>
<line x1="108.00" y1="543.50" x2="108.00" y2="547.50" stroke="#777" stroke-width="1.2"/>
<text x="80.10" y="545.14" font-size="9.5" font-weight="bold" text-anchor="middle" fill="#000" >*</text>
<text x="55.40" y="637.88" font-size="8" font-weight="bold" text-anchor="middle" fill="#000" textLength="11.75" lengthAdjust="spacingAndGlyphs" >ctrl</text>
<text x="107.00" y="637.88" font-size="8" font-weight="bold" text-anchor="middle" fill="#000" textLength="19.75" lengthAdjust="spacingAndGlyphs" >FSL1</text>
<text x="162.00" y="637.88" font-size="8" font-weight="bold" text-anchor="middle" fill="#000" textLength="13.75" lengthAdjust="spacingAndGlyphs" >LPS</text>
<text x="8.20" y="574.00" font-size="8.6" font-weight="bold" text-anchor="middle" fill="#000" textLength="74" lengthAdjust="spacingAndGlyphs" transform="rotate(-90 8.20 574.00)" stroke="#000" stroke-width="0.2">&#956;g Fe/g dry tissue</text>
<line x1="424.25" y1="504.50" x2="426.25" y2="504.50" stroke="#000" stroke-width="1.1"/>
<text x="425.00" y="506.30" font-size="5" font-weight="bold" text-anchor="end" fill="#000" textLength="6.46" lengthAdjust="spacingAndGlyphs" stroke="#000" stroke-width="0.3">0.8</text>
<line x1="424.25" y1="525.00" x2="426.25" y2="525.00" stroke="#000" stroke-width="1.1"/>
<text x="425.00" y="526.80" font-size="5" font-weight="bold" text-anchor="end" fill="#000" textLength="6.46" lengthAdjust="spacingAndGlyphs" stroke="#000" stroke-width="0.3">0.6</text>
<line x1="424.25" y1="545.50" x2="426.25" y2="545.50" stroke="#000" stroke-width="1.1"/>
<text x="425.00" y="547.30" font-size="5" font-weight="bold" text-anchor="end" fill="#000" textLength="6.46" lengthAdjust="spacingAndGlyphs" stroke="#000" stroke-width="0.3">0.4</text>
<line x1="424.25" y1="566.25" x2="426.25" y2="566.25" stroke="#000" stroke-width="1.1"/>
<text x="425.00" y="568.05" font-size="5" font-weight="bold" text-anchor="end" fill="#000" textLength="6.46" lengthAdjust="spacingAndGlyphs" stroke="#000" stroke-width="0.3">0.2</text>
<line x1="424.25" y1="587.00" x2="426.25" y2="587.00" stroke="#000" stroke-width="1.1"/>
<text x="425.00" y="588.80" font-size="5" font-weight="bold" text-anchor="end" fill="#000" textLength="6.46" lengthAdjust="spacingAndGlyphs" stroke="#000" stroke-width="0.3">0.0</text>
<line x1="452.12" y1="516.75" x2="452.12" y2="524.50" stroke="#000" stroke-width="1.2"/>
<line x1="444.14" y1="516.75" x2="460.11" y2="516.75" stroke="#000" stroke-width="1.3"/>
<rect x="436.00" y="525.00" width="32.25" height="62.00" fill="#000" stroke="#000" stroke-width="1"/>
<line x1="452.12" y1="587.00" x2="452.12" y2="589.00" stroke="#000" stroke-width="1"/>
<line x1="491.25" y1="547.50" x2="491.25" y2="551.25" stroke="#000" stroke-width="1.2"/>
<line x1="483.21" y1="547.50" x2="499.29" y2="547.50" stroke="#000" stroke-width="1.3"/>
<rect x="475.00" y="551.75" width="32.50" height="35.25" fill="#9d9d9d" stroke="#444" stroke-width="1"/>
<line x1="491.25" y1="587.00" x2="491.25" y2="589.00" stroke="#000" stroke-width="1"/>
<line x1="426.25" y1="504.50" x2="426.25" y2="587.00" stroke="#555" stroke-width="1"/>
<line x1="425.75" y1="587.00" x2="518.75" y2="587.00" stroke="#000" stroke-width="1.1"/>
<line x1="451.35" y1="509.50" x2="492.80" y2="509.50" stroke="#444" stroke-width="1.0"/>
<line x1="451.35" y1="507.50" x2="451.35" y2="511.50" stroke="#444" stroke-width="1.0"/>
<line x1="492.80" y1="507.50" x2="492.80" y2="511.50" stroke="#444" stroke-width="1.0"/>
<text x="472.65" y="508.46" font-size="6" font-weight="bold" text-anchor="middle" fill="#000" >*</text>
<text x="450.50" y="594.30" font-size="5" font-weight="bold" text-anchor="middle" fill="#000" >ctrl</text>
<text x="489.50" y="594.30" font-size="5" font-weight="bold" text-anchor="middle" fill="#000" >FSL1</text>
<text x="414.00" y="543.60" font-size="6" font-weight="bold" text-anchor="middle" fill="#000" textLength="77.4" lengthAdjust="spacingAndGlyphs" transform="rotate(-90 414.00 543.60)" stroke="#000" stroke-width="0.2">Fpn/actin densitometry (AU)</text>
<line x1="426.00" y1="618.00" x2="428.00" y2="618.00" stroke="#000" stroke-width="1.1"/>
<text x="426.75" y="619.80" font-size="5" font-weight="bold" text-anchor="end" fill="#000" textLength="6.46" lengthAdjust="spacingAndGlyphs" stroke="#000" stroke-width="0.3">1.5</text>
<line x1="426.00" y1="646.25" x2="428.00" y2="646.25" stroke="#000" stroke-width="1.1"/>
<text x="426.75" y="648.05" font-size="5" font-weight="bold" text-anchor="end" fill="#000" textLength="6.46" lengthAdjust="spacingAndGlyphs" stroke="#000" stroke-width="0.3">1.0</text>
<line x1="426.00" y1="674.00" x2="428.00" y2="674.00" stroke="#000" stroke-width="1.1"/>
<text x="426.75" y="675.80" font-size="5" font-weight="bold" text-anchor="end" fill="#000" textLength="6.46" lengthAdjust="spacingAndGlyphs" stroke="#000" stroke-width="0.3">0.5</text>
<line x1="426.00" y1="702.00" x2="428.00" y2="702.00" stroke="#000" stroke-width="1.1"/>
<text x="426.75" y="703.80" font-size="5" font-weight="bold" text-anchor="end" fill="#000" textLength="6.46" lengthAdjust="spacingAndGlyphs" stroke="#000" stroke-width="0.3">0.0</text>
<line x1="453.12" y1="625.00" x2="453.12" y2="629.25" stroke="#000" stroke-width="1.2"/>
<line x1="445.02" y1="625.00" x2="461.23" y2="625.00" stroke="#000" stroke-width="1.3"/>
<rect x="436.75" y="629.75" width="32.75" height="72.25" fill="#000" stroke="#000" stroke-width="1"/>
<line x1="453.12" y1="702.00" x2="453.12" y2="704.00" stroke="#000" stroke-width="1"/>
<line x1="492.62" y1="653.75" x2="492.62" y2="659.20" stroke="#000" stroke-width="1.2"/>
<line x1="484.52" y1="653.75" x2="500.73" y2="653.75" stroke="#000" stroke-width="1.3"/>
<rect x="476.25" y="659.70" width="32.75" height="42.30" fill="url(#hatch2)" stroke="#333" stroke-width="1"/>
<line x1="492.62" y1="702.00" x2="492.62" y2="704.00" stroke="#000" stroke-width="1"/>
<line x1="428.00" y1="618.00" x2="428.00" y2="702.00" stroke="#555" stroke-width="1"/>
<line x1="427.50" y1="702.00" x2="518.75" y2="702.00" stroke="#000" stroke-width="1.1"/>
<line x1="452.20" y1="616.50" x2="496.30" y2="616.50" stroke="#444" stroke-width="1.0"/>
<line x1="452.20" y1="614.50" x2="452.20" y2="618.50" stroke="#444" stroke-width="1.0"/>
<line x1="496.30" y1="614.50" x2="496.30" y2="618.50" stroke="#444" stroke-width="1.0"/>
<text x="473.85" y="616.56" font-size="6" font-weight="bold" text-anchor="middle" fill="#000" >**</text>
<text x="455.50" y="708.05" font-size="5" font-weight="bold" text-anchor="middle" fill="#000" >ctrl</text>
<text x="495.00" y="708.05" font-size="5" font-weight="bold" text-anchor="middle" fill="#000" >LPS</text>
<text x="415.60" y="658.60" font-size="6" font-weight="bold" text-anchor="middle" fill="#000" textLength="78.8" lengthAdjust="spacingAndGlyphs" transform="rotate(-90 415.60 658.60)" stroke="#000" stroke-width="0.2">Fpn/actin densitometry (AU)</text>
<defs><filter id="bl1" x="-20%" y="-50%" width="140%" height="200%"><feGaussianBlur stdDeviation="0.9"/></filter><filter id="bl2" x="-20%" y="-50%" width="140%" height="200%"><feGaussianBlur stdDeviation="0.6"/></filter></defs>
<rect x="248.00" y="518.20" width="107.80" height="16.20" fill="#1c1c1c"/>
<g filter="url(#bl1)">
<rect x="248.80" y="519.20" width="17.40" height="14.20" fill="#0a0a0a"/>
<rect x="267.80" y="519.20" width="15.60" height="14.20" fill="#0a0a0a"/>
<rect x="285.00" y="519.20" width="16.80" height="14.20" fill="#0a0a0a"/>
<rect x="303.40" y="519.20" width="14.80" height="14.20" fill="#333333"/>
<ellipse cx="310.80" cy="526.6" rx="7.90" ry="3.6" fill="#0e0e0e"/>
<rect x="319.80" y="519.20" width="16.00" height="14.20" fill="#333333"/>
<ellipse cx="327.80" cy="526.6" rx="8.50" ry="3.6" fill="#0e0e0e"/>
<rect x="337.40" y="519.20" width="17.60" height="14.20" fill="#333333"/>
<ellipse cx="346.20" cy="526.6" rx="9.30" ry="3.6" fill="#0e0e0e"/>
<rect x="266.25" y="519.40" width="1.50" height="13.80" fill="#8c8c8c"/>
<rect x="283.45" y="519.40" width="1.50" height="13.80" fill="#8c8c8c"/>
<rect x="301.85" y="519.40" width="1.50" height="13.80" fill="#8c8c8c"/>
<rect x="318.25" y="519.40" width="1.50" height="13.80" fill="#8c8c8c"/>
<rect x="335.85" y="519.40" width="1.50" height="13.80" fill="#8c8c8c"/>
<rect x="249.20" y="519.70" width="1.20" height="13.20" fill="#7a7a7a"/>
<rect x="353.40" y="519.70" width="1.20" height="13.20" fill="#7a7a7a"/>
</g>
<rect x="248.00" y="518.20" width="107.80" height="16.20" fill="none" stroke="#000" stroke-width="1.3"/>
<rect x="248.00" y="539.60" width="107.80" height="16.00" fill="#efefef"/>
<g filter="url(#bl2)">
<rect x="249.00" y="540.60" width="105.80" height="5.50" fill="#dedede"/>
<rect x="252.40" y="547.40" width="14.80" height="3.00" rx="1.2" fill="#161616"/>
<rect x="269.20" y="547.00" width="15.80" height="4.40" rx="1.2" fill="#161616"/>
<rect x="286.60" y="547.00" width="16.30" height="4.40" rx="1.2" fill="#161616"/>
<rect x="304.80" y="547.60" width="14.60" height="3.80" rx="1.2" fill="#161616"/>
<rect x="322.10" y="547.60" width="15.20" height="3.60" rx="1.2" fill="#161616"/>
<rect x="339.40" y="547.60" width="15.20" height="3.80" rx="1.2" fill="#161616"/>
</g>
<rect x="248.00" y="539.60" width="107.80" height="16.00" fill="none" stroke="#000" stroke-width="1.3"/>
<rect x="234.40" y="609.40" width="135.50" height="17.50" fill="#b2b2b2"/>
<g filter="url(#bl1)">
<rect x="235.70" y="613.6" width="15.20" height="9.6" rx="3.5" fill="#363636"/>
<rect x="253.50" y="613.6" width="13.50" height="9.6" rx="3.5" fill="#6a6a6a"/>
<rect x="269.60" y="613.6" width="13.60" height="9.6" rx="3.5" fill="#707070"/>
<rect x="285.80" y="613.6" width="14.30" height="9.6" rx="3.5" fill="#3c3c3c"/>
<rect x="302.70" y="613.6" width="13.30" height="9.6" rx="3.5" fill="#8e8e8e"/>
<rect x="318.60" y="613.6" width="14.00" height="9.6" rx="3.5" fill="#9a9a9a"/>
<rect x="335.20" y="613.6" width="14.70" height="9.6" rx="3.5" fill="#929292"/>
<rect x="352.50" y="613.6" width="16.10" height="9.6" rx="3.5" fill="#9a9a9a"/>
<rect x="251.30" y="610.40" width="1.80" height="15.50" fill="#cfcfcf"/>
<rect x="267.40" y="610.40" width="1.80" height="15.50" fill="#cfcfcf"/>
<rect x="283.60" y="610.40" width="1.80" height="15.50" fill="#cfcfcf"/>
<rect x="300.50" y="610.40" width="1.80" height="15.50" fill="#cfcfcf"/>
<rect x="316.40" y="610.40" width="1.80" height="15.50" fill="#cfcfcf"/>
<rect x="333.00" y="610.40" width="1.80" height="15.50" fill="#cfcfcf"/>
<rect x="350.30" y="610.40" width="1.80" height="15.50" fill="#cfcfcf"/>
</g>
<rect x="234.40" y="609.40" width="135.50" height="17.50" fill="none" stroke="#000" stroke-width="1.3"/>
<rect x="234.40" y="632.00" width="135.50" height="17.50" fill="#e4e4e4"/>
<g filter="url(#bl2)">
<path d="M237.70,638.9 L251.90,638.9 L251.90,643.4 Q244.80,646.0 237.70,643.4 Z" fill="#0c0c0c"/>
<path d="M254.20,638.9 L268.10,638.9 L268.10,643.4 Q261.15,646.0 254.20,643.4 Z" fill="#0c0c0c"/>
<path d="M271.00,638.9 L283.80,638.9 L283.80,643.4 Q277.40,646.0 271.00,643.4 Z" fill="#0c0c0c"/>
<path d="M286.50,638.9 L300.00,638.9 L300.00,643.4 Q293.25,646.0 286.50,643.4 Z" fill="#0c0c0c"/>
<path d="M303.30,638.9 L317.00,638.9 L317.00,643.4 Q310.15,646.0 303.30,643.4 Z" fill="#0c0c0c"/>
<path d="M319.80,638.9 L334.00,638.9 L334.00,643.4 Q326.90,646.0 319.80,643.4 Z" fill="#0c0c0c"/>
<path d="M336.50,638.9 L350.00,638.9 L350.00,643.4 Q343.25,646.0 336.50,643.4 Z" fill="#0c0c0c"/>
<path d="M352.80,638.9 L368.00,638.9 L368.00,643.4 Q360.40,646.0 352.80,643.4 Z" fill="#0c0c0c"/>
</g>
<rect x="234.40" y="632.00" width="135.50" height="17.50" fill="none" stroke="#000" stroke-width="1.3"/>
<text x="234.75" y="523.90" font-size="8.1" font-weight="normal" text-anchor="end" fill="#000" textLength="8.2" lengthAdjust="spacingAndGlyphs" >70</text>
<line x1="237.25" y1="523.10" x2="245.25" y2="523.10" stroke="#000" stroke-width="1.1"/>
<text x="237.25" y="533.00" font-size="8.1" font-weight="normal" text-anchor="end" fill="#000" textLength="13.2" lengthAdjust="spacingAndGlyphs" >kDa</text>
<text x="234.75" y="545.80" font-size="8.1" font-weight="normal" text-anchor="end" fill="#000" textLength="8.2" lengthAdjust="spacingAndGlyphs" >43</text>
<line x1="236.50" y1="544.75" x2="244.75" y2="544.75" stroke="#000" stroke-width="1.1"/>
<text x="237.25" y="554.30" font-size="8.1" font-weight="normal" text-anchor="end" fill="#000" textLength="13.2" lengthAdjust="spacingAndGlyphs" >kDa</text>
<text x="220.60" y="614.30" font-size="8.1" font-weight="normal" text-anchor="end" fill="#000" textLength="8.2" lengthAdjust="spacingAndGlyphs" >70</text>
<line x1="223.10" y1="613.75" x2="231.25" y2="613.75" stroke="#000" stroke-width="1.1"/>
<text x="222.75" y="623.65" font-size="8.1" font-weight="normal" text-anchor="end" fill="#000" textLength="13.2" lengthAdjust="spacingAndGlyphs" >kDa</text>
<text x="220.60" y="636.15" font-size="8.1" font-weight="normal" text-anchor="end" fill="#000" textLength="8.2" lengthAdjust="spacingAndGlyphs" >43</text>
<line x1="223.00" y1="635.25" x2="230.60" y2="635.25" stroke="#000" stroke-width="1.1"/>
<text x="222.75" y="645.15" font-size="8.1" font-weight="normal" text-anchor="end" fill="#000" textLength="13.2" lengthAdjust="spacingAndGlyphs" >kDa</text>
<text x="359.90" y="526.20" font-size="9.4" font-weight="normal" text-anchor="start" fill="#000" textLength="15" lengthAdjust="spacingAndGlyphs" >Fpn</text>
<text x="360.30" y="551.40" font-size="9.4" font-weight="normal" text-anchor="start" fill="#000" textLength="18.9" lengthAdjust="spacingAndGlyphs" >Actin</text>
<text x="376.70" y="620.50" font-size="9.4" font-weight="normal" text-anchor="start" fill="#000" textLength="15" lengthAdjust="spacingAndGlyphs" >Fpn</text>
<text x="375.00" y="645.80" font-size="9.4" font-weight="normal" text-anchor="start" fill="#000" textLength="18.9" lengthAdjust="spacingAndGlyphs" >Actin</text>
<polyline points="248.00,563.50 248.00,567.00 302.50,567.00 302.50,563.50" fill="none" stroke="#000" stroke-width="1"/>
<polyline points="305.75,563.50 305.75,567.00 357.50,567.00 357.50,563.50" fill="none" stroke="#000" stroke-width="1"/>
<polyline points="238.75,659.50 238.75,663.00 300.50,663.00 300.50,659.50" fill="none" stroke="#000" stroke-width="1"/>
<polyline points="305.00,659.50 305.00,663.00 368.00,663.00 368.00,659.50" fill="none" stroke="#000" stroke-width="1"/>
<text x="267.60" y="580.70" font-size="9.8" font-weight="bold" text-anchor="middle" fill="#000" textLength="15" lengthAdjust="spacingAndGlyphs" >ctrl</text>
<text x="336.00" y="580.70" font-size="9.8" font-weight="bold" text-anchor="middle" fill="#000" textLength="22.3" lengthAdjust="spacingAndGlyphs" >FSL1</text>
<text x="268.60" y="677.20" font-size="9.8" font-weight="bold" text-anchor="middle" fill="#000" textLength="14.8" lengthAdjust="spacingAndGlyphs" >ctrl</text>
<text x="340.20" y="677.20" font-size="9.8" font-weight="bold" text-anchor="middle" fill="#000" textLength="18.4" lengthAdjust="spacingAndGlyphs" >LPS</text>
</svg></body></html>
